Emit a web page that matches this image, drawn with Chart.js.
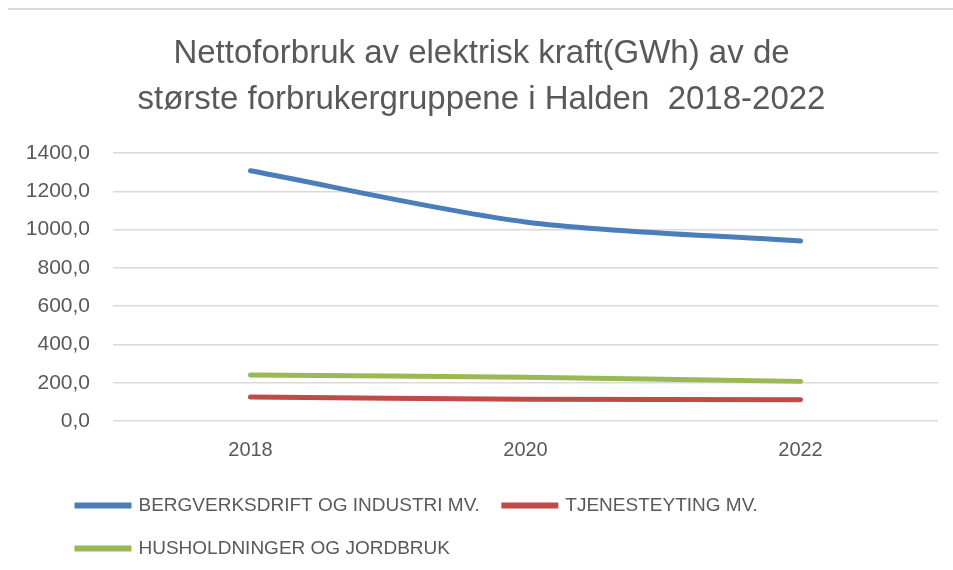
<!DOCTYPE html>
<html>
<head>
<meta charset="utf-8">
<script src="https://cdn.jsdelivr.net/npm/chart.js@4/dist/chart.umd.min.js"></script>
<style>
  html, body { margin: 0; padding: 0; background: #fff; }
  #wrap { position: relative; width: 953px; height: 570px; }
  #topline { position: absolute; top: 8px; left: 8px; right: 0; height: 2px; background: #dadada; }
</style>
</head>
<body>
<div id="wrap">
  <div id="topline"></div>
  <canvas id="myChart" width="953" height="570"></canvas>
</div>
<script>
// data
const years = ['2018', '2020', '2022'];
const industri = [1307, 1040, 940];
const tjeneste = [125, 114, 111];
const husholdning = [240, 228, 207];
const yTicks = [0, 200, 400, 600, 800, 1000, 1200, 1400];

const textGrey = '#595959';
const fontFamily = '"Liberation Sans", Arial, sans-serif';

// nudge the legend right so it starts under the plot like in Excel
const shiftLegend = {
    id: 'shiftLegend',
    afterLayout(chart) {
        chart.legend.left += 28;
        chart.legend.right += 28;
    }
};

const ctx = document.getElementById('myChart').getContext('2d');

new Chart(ctx, {
    type: 'line',
    data: {
        labels: years,
        datasets: [{
            label: 'BERGVERKSDRIFT OG INDUSTRI MV.',
            data: industri,
            borderColor: '#4a7ebb',
            backgroundColor: '#4a7ebb'
        }, {
            label: 'TJENESTEYTING MV.',
            data: tjeneste,
            borderColor: '#be4b48',
            backgroundColor: '#be4b48'
        }, {
            label: 'HUSHOLDNINGER OG JORDBRUK',
            data: husholdning,
            borderColor: '#98b954',
            backgroundColor: '#98b954'
        }]
    },
    options: {
        responsive: false,
        animation: false,
        devicePixelRatio: 1,
        elements: {
            line: { borderWidth: 5, tension: 0.3, borderCapStyle: 'round' },
            point: { radius: 0, hoverRadius: 0 }
        },
        layout: {
            padding: { left: 25, right: 15, top: 0, bottom: 2 }
        },
        plugins: {
            tooltip: { enabled: false },
            title: {
                display: true,
                text: ['Nettoforbruk av elektrisk kraft(GWh) av de', 'største forbrukergruppene i Halden  2018-2022'],
                color: textGrey,
                font: { family: fontFamily, size: 33, weight: 'normal', lineHeight: 1.394 },
                padding: { top: 31, bottom: 30 }
            },
            legend: {
                position: 'bottom',
                align: 'start',
                title: {
                    display: true,
                    text: ' ',
                    font: { size: 10, lineHeight: 1 },
                    padding: 0
                },
                labels: {
                    color: textGrey,
                    font: { family: fontFamily, size: 19 },
                    boxWidth: 52,
                    boxHeight: 1,
                    padding: 24
                }
            }
        },
        scales: {
            x: {
                offset: true,
                afterFit: scale => {
                    scale.height = 41;
                },
                grid: { display: false, drawTicks: false },
                border: { display: false },
                ticks: {
                    color: textGrey,
                    font: { family: fontFamily, size: 20 },
                    padding: 17
                }
            },
            y: {
                min: 0,
                max: 1400,
                afterBuildTicks: scale => {
                    scale.ticks = yTicks.map(v => ({ value: v }));
                },
                afterFit: scale => {
                    scale.width = 88;
                },
                grid: { color: '#d9d9d9', lineWidth: 1.5, drawTicks: false },
                border: { display: false },
                ticks: {
                    color: textGrey,
                    font: { family: fontFamily, size: 21 },
                    padding: 23,
                    callback: v => v.toFixed(1).replace('.', ',')
                }
            }
        }
    },
    plugins: [shiftLegend]
});
</script>
</body>
</html>
